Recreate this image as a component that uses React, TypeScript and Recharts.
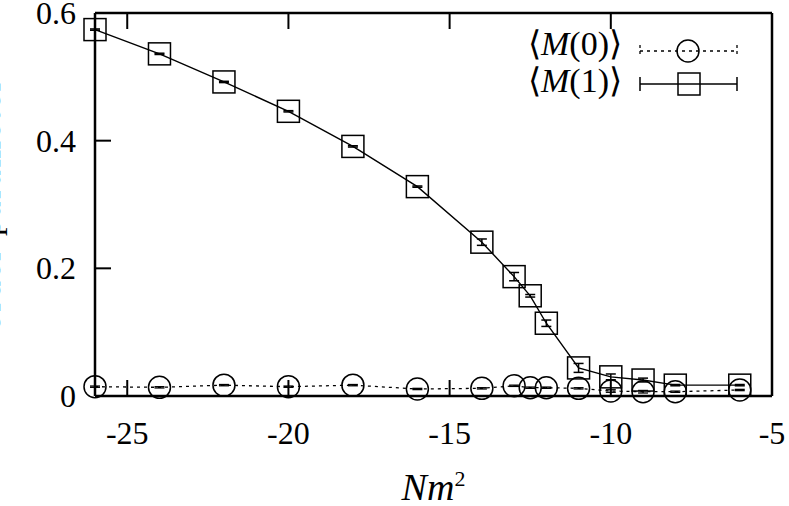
import React from "react";
import {
  ComposedChart,
  Line,
  XAxis,
  YAxis,
  ErrorBar,
  Customized,
} from "recharts";

// N m^2 values where both order parameters were measured
const nm2 = [-26, -24, -22, -20, -18, -16, -14, -13, -12.5, -12, -11, -10, -9, -8, -6];

// <M(0)> and its error
const m0 = [0.0146, 0.0136, 0.017, 0.0146, 0.017, 0.011, 0.012, 0.016, 0.013, 0.013, 0.012, 0.0078, 0.0067, 0.0067, 0.0094];
const m0Err = [0.001, 0.001, 0.001, 0.001, 0.001, 0.001, 0.001, 0.001, 0.001, 0.001, 0.001, 0.002, 0.002, 0.001, 0.001];

// <M(1)> and its error
const m1 = [0.574, 0.536, 0.492, 0.446, 0.391, 0.328, 0.241, 0.187, 0.157, 0.114, 0.044, 0.03, 0.025, 0.017, 0.017];
const m1Err = [0.001, 0.001, 0.001, 0.001, 0.001, 0.001, 0.005, 0.0065, 0.002, 0.005, 0.007, 0.0045, 0.003, 0.001, 0.001];

const xTicks = [-25, -20, -15, -10, -5];
const yTicks = [0, 0.2, 0.4, 0.6];

const data = nm2.map((x, i) => ({
  x,
  m0: m0[i],
  m0Err: m0Err[i],
  m1: m1[i],
  m1Err: m1Err[i],
}));

const FONT = "Liberation Serif";
const axisLine = { stroke: "#000", strokeWidth: 2.5 };
const tickLine = { stroke: "#000", strokeWidth: 2 };
const noLabel = () => <g />;

// tick labels drawn by hand so the serif font and size stick
const XTick = (props: any) => {
  const { x, y, payload } = props;
  return (
    <text x={x} y={y + 22} textAnchor="middle" fontFamily={FONT} fontSize={32} fill="#000">
      {payload.value}
    </text>
  );
};

const YTick = (props: any) => {
  const { x, y, payload } = props;
  return (
    <text x={x} y={y + 11} textAnchor="end" fontFamily={FONT} fontSize={32} fill="#000">
      {payload.value}
    </text>
  );
};

const CircleDot = (props: any) => {
  const { cx, cy, index } = props;
  return <circle key={`c${index}`} cx={cx} cy={cy} r={11} fill="none" stroke="#000" strokeWidth={1.5} />;
};

const SquareDot = (props: any) => {
  const { cx, cy, index } = props;
  return (
    <rect key={`s${index}`} x={cx - 11} y={cy - 11} width={22} height={22} fill="none" stroke="#000" strokeWidth={1.5} />
  );
};

const LegendBox = () => (
  <g fontFamily={FONT} fontSize={34} fill="#000">
    <text x={622} y={55} textAnchor="end">
      ⟨<tspan fontStyle="italic">M</tspan>(0)⟩
    </text>
    <text x={622} y={92} textAnchor="end">
      ⟨<tspan fontStyle="italic">M</tspan>(1)⟩
    </text>
    <line x1={640} y1={51} x2={737} y2={51} stroke="#000" strokeWidth={1.3} strokeDasharray="3 4" />
    <line x1={640} y1={45} x2={640} y2={57} stroke="#000" strokeWidth={1.3} strokeDasharray="3 3" />
    <line x1={737} y1={45} x2={737} y2={57} stroke="#000" strokeWidth={1.3} strokeDasharray="3 3" />
    <circle cx={688} cy={51} r={11} fill="none" stroke="#000" strokeWidth={1.5} />
    <line x1={640} y1={84} x2={737} y2={84} stroke="#000" strokeWidth={1.5} />
    <line x1={640} y1={77} x2={640} y2={91} stroke="#000" strokeWidth={1.5} />
    <line x1={737} y1={77} x2={737} y2={91} stroke="#000" strokeWidth={1.5} />
    <rect x={678} y={73} width={22} height={22} fill="none" stroke="#000" strokeWidth={1.5} />
  </g>
);

const XLabel = (props: any) => {
  const { viewBox } = props;
  const cx = viewBox.x + viewBox.width / 2;
  return (
    <text x={cx} y={viewBox.y + 104} textAnchor="middle" fontFamily={FONT} fontSize={38} fill="#000">
      <tspan fontStyle="italic">Nm</tspan>
      <tspan dy={-14} fontSize={22}>2</tspan>
    </text>
  );
};

const YLabel = (props: any) => {
  const { viewBox } = props;
  const cy = viewBox.y + viewBox.height / 2;
  return (
    <text
      x={0}
      y={cy}
      textAnchor="middle"
      fontFamily={FONT}
      fontSize={34}
      letterSpacing={2.5}
      fill="#000"
      transform={`rotate(-90, 0, ${cy})`}
    >
      order parameter
    </text>
  );
};

export default function App() {
  return (
    <div style={{ position: "absolute", left: 0, top: 0 }}>
      <ComposedChart width={789} height={506} data={data} margin={{ top: 0, right: 0, bottom: 0, left: 0 }}>
        <XAxis
          dataKey="x"
          type="number"
          domain={[-26, -5]}
          ticks={xTicks}
          height={110}
          tickSize={-16}
          tickMargin={42}
          tick={XTick}
          axisLine={axisLine}
          tickLine={tickLine}
          label={{ content: XLabel }}
        />
        <XAxis
          xAxisId="top"
          orientation="top"
          dataKey="x"
          type="number"
          domain={[-26, -5]}
          ticks={xTicks}
          height={13}
          tickSize={-16}
          tick={noLabel}
          axisLine={axisLine}
          tickLine={tickLine}
        />
        <YAxis
          type="number"
          domain={[0, 0.6]}
          ticks={yTicks}
          width={95}
          tickSize={-16}
          tickMargin={35}
          tick={YTick}
          axisLine={axisLine}
          tickLine={tickLine}
          label={{ content: YLabel }}
        />
        <YAxis
          yAxisId="right"
          orientation="right"
          type="number"
          domain={[0, 0.6]}
          ticks={yTicks}
          width={17}
          tickSize={-16}
          tick={noLabel}
          axisLine={axisLine}
          tickLine={tickLine}
        />
        <Line
          dataKey="m0"
          type="linear"
          stroke="#000"
          strokeWidth={1.3}
          strokeDasharray="3 4"
          dot={CircleDot}
          activeDot={false}
          isAnimationActive={false}
        >
          <ErrorBar dataKey="m0Err" direction="y" width={5} stroke="#000" strokeWidth={1.3} />
        </Line>
        <Line
          dataKey="m1"
          type="linear"
          stroke="#000"
          strokeWidth={1.4}
          dot={SquareDot}
          activeDot={false}
          isAnimationActive={false}
        >
          <ErrorBar dataKey="m1Err" direction="y" width={5} stroke="#000" strokeWidth={1.5} />
        </Line>
        <Customized component={LegendBox} />
      </ComposedChart>
    </div>
  );
}
